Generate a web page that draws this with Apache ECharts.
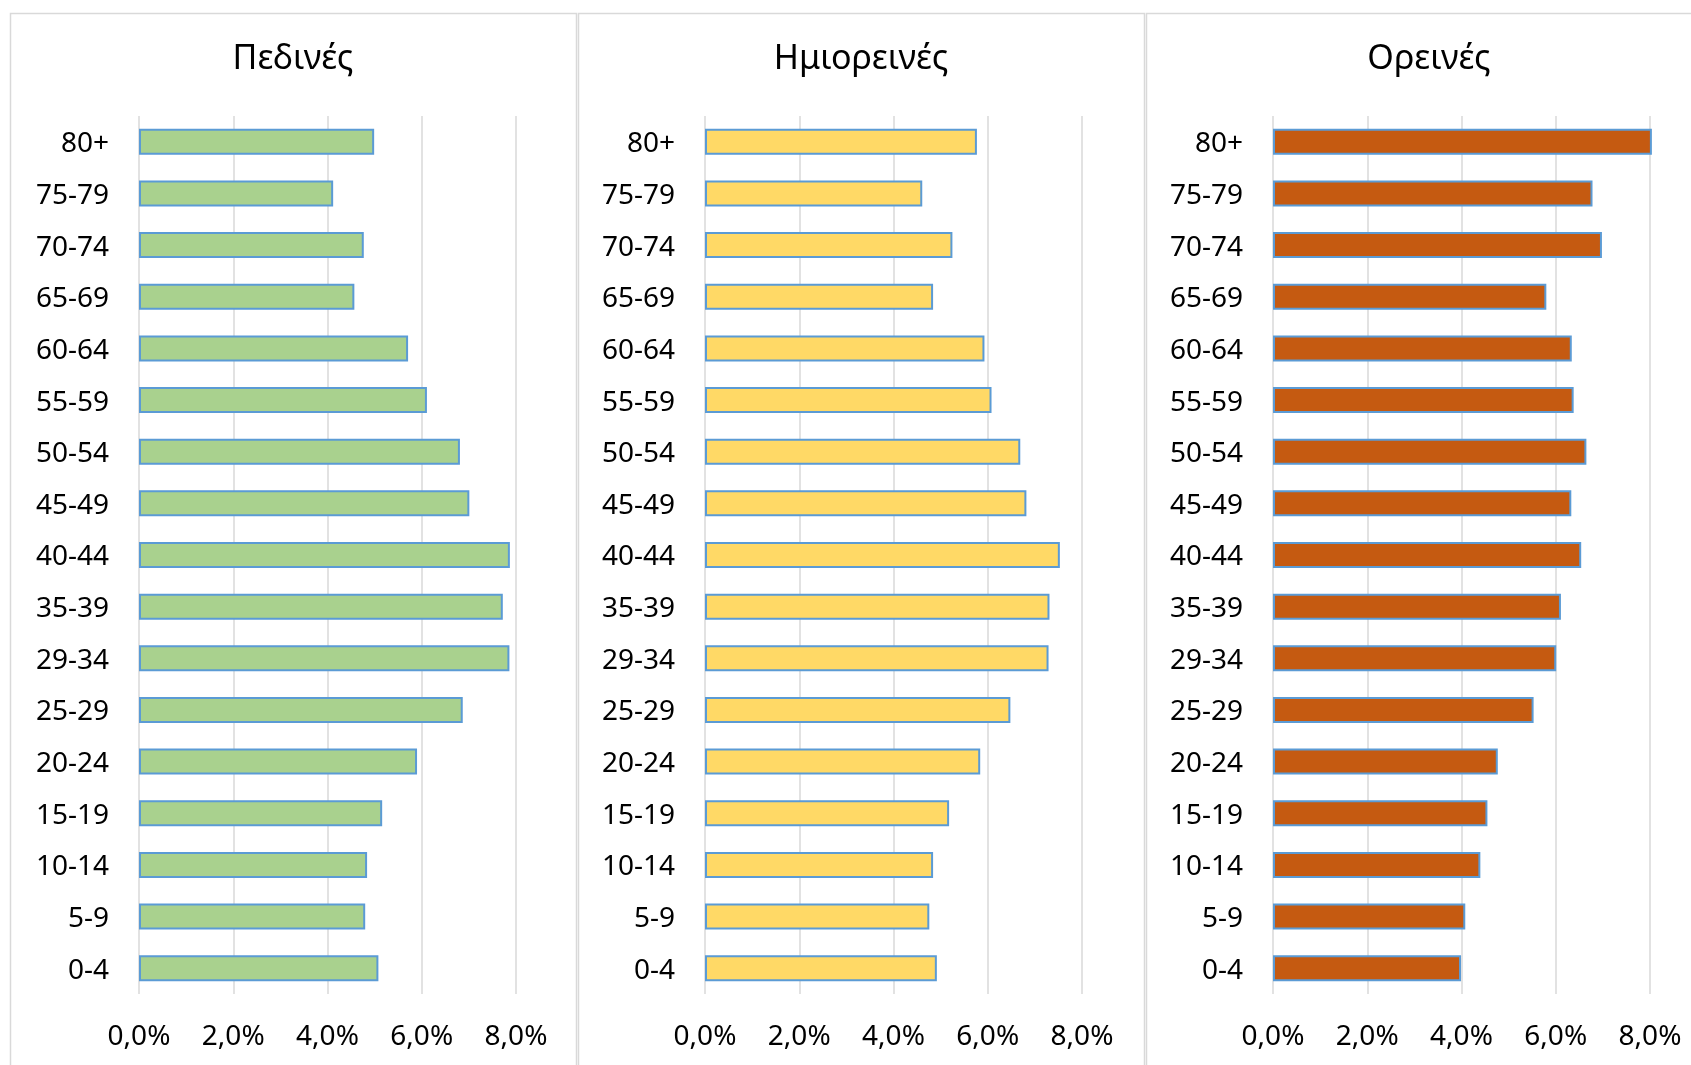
<!DOCTYPE html>
<html>
<head>
<meta charset="utf-8">
<title>Πεδινές / Ημιορεινές / Ορεινές</title>
<script src="https://cdn.jsdelivr.net/npm/echarts@6/dist/echarts.min.js"></script>
<style>
html,body{margin:0;padding:0;background:#fff;}
#chartBox{width:1691px;height:1065px;}
</style>
</head>
<body>
<div id="chartBox"></div>
<script>
// ηλικιακές ομάδες (από κάτω προς τα πάνω)
var ageGroups=['0-4','5-9','10-14','15-19','20-24','25-29','29-34','35-39','40-44','45-49','50-54','55-59','60-64','65-69','70-74','75-79','80+'];

var panelNames=['Πεδινές','Ημιορεινές','Ορεινές'];

// ποσοστά %
var pedines=[5.08,4.80,4.84,5.16,5.90,6.87,7.86,7.72,7.87,7.01,6.81,6.11,5.71,4.57,4.77,4.12,4.99];
var imioreines=[4.92,4.76,4.84,5.18,5.84,6.48,7.29,7.31,7.53,6.82,6.69,6.08,5.93,4.84,5.25,4.61,5.77];
var oreines=[3.99,4.08,4.40,4.55,4.77,5.53,6.01,6.11,6.54,6.33,6.65,6.38,6.34,5.80,6.98,6.78,8.04];

var tickValues=[0,2,4,6,8];
var tickLabels=['0,0%','2,0%','4,0%','6,0%','8,0%'];

var fontName='"Noto Sans", "Open Sans", sans-serif';

$init();

function $init(){
    var myChart=echarts.init(document.getElementById('chartBox'));

    var seriesData=[pedines,imioreines,oreines];
    var colors=['#a9d18e','#ffd966','#c55a11'];
    var panelX=[10,578,1146];
    var panelW=566;
    var gridLeft=[139,705,1273];
    var gridW=377;

    var grid=[],xAxis=[],yAxis=[],series=[],graphic=[];

    for(var i=0;i<3;i++){
        // πλαίσιο
        graphic.push({
            type:'rect',
            silent:true,
            shape:{x:panelX[i]+0.5,y:13.5,width:panelW,height:1200},
            style:{fill:'none',stroke:'#d9d9d9',lineWidth:1.5}
        });
        graphic.push({
            type:'text',
            silent:true,
            x:panelX[i]+panelW/2,
            y:59,
            style:{
                text:panelNames[i],
                align:'center',
                verticalAlign:'middle',
                font:'34px '+fontName,
                fill:'#000'
            }
        });

        grid.push({left:gridLeft[i],top:116,width:gridW,height:878});

        xAxis.push({
            type:'value',
            gridIndex:i,
            min:tickValues[0],
            max:tickValues[tickValues.length-1],
            interval:tickValues[1]-tickValues[0],
            axisLine:{show:false},
            axisTick:{show:false},
            splitLine:{show:true,lineStyle:{color:'#d9d9d9',width:1.5}},
            axisLabel:{
                margin:29,
                fontSize:28,
                fontFamily:fontName,
                color:'#000',
                formatter:function(v){
                    var k=tickValues.indexOf(v);
                    return k>=0?tickLabels[k]:'';
                }
            }
        });

        yAxis.push({
            type:'category',
            gridIndex:i,
            data:ageGroups,
            axisLine:{show:false},
            axisTick:{show:false},
            axisLabel:{
                interval:0,
                margin:30,
                formatter:function(v){
                    return '{a|'+v+'}';
                },
                rich:{
                    a:{
                        fontSize:28,
                        fontFamily:fontName,
                        color:'#000',
                        padding:[5,0,0,0]
                    }
                }
            }
        });

        series.push({
            name:panelNames[i],
            type:'bar',
            xAxisIndex:i,
            yAxisIndex:i,
            data:seriesData[i],
            barWidth:26,
            clip:false,
            itemStyle:{
                color:colors[i],
                borderColor:'#5b9bd5',
                borderWidth:2
            }
        });
    };

    var option={
        backgroundColor:'#fff',
        animation:false,
        graphic:graphic,
        grid:grid,
        xAxis:xAxis,
        yAxis:yAxis,
        series:series
    };

    myChart.setOption(option);
};
</script>
</body>
</html>
